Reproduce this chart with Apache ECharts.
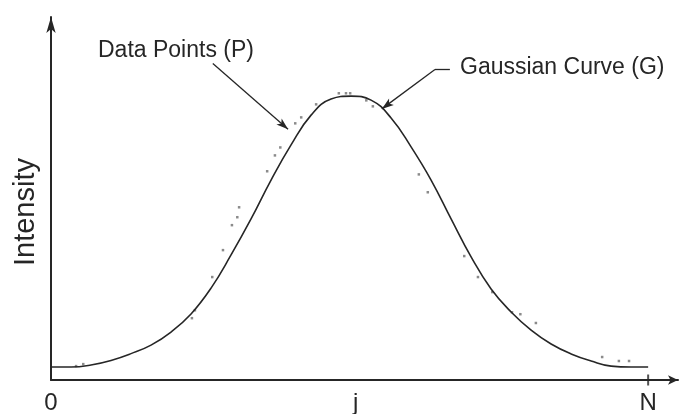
<!DOCTYPE html>
<html>
<head>
<meta charset="utf-8">
<script src="https://cdn.jsdelivr.net/npm/echarts@6/dist/echarts.min.js"></script>
<style>
  html, body { margin: 0; padding: 0; background: #fff; }
  #chart { width: 682px; height: 414px; }
</style>
</head>
<body>
<div id="chart"></div>
<script>
// Fitted Gaussian curve G, sampled along the pixel index axis (0 .. N = 100)
const curveX = [0, 3.35, 6.7, 10.05, 13.4, 16.75, 20.1, 23.45, 26.8, 30.15, 33.5, 36.85, 40.2, 43.55, 46.9, 50.25, 53.6, 56.95, 60.3, 63.65, 67.0, 70.35, 73.7, 77.05, 80.4, 83.75, 87.1, 90.45, 93.8, 97.15, 100];
const curveY = [4.6, 4.6, 5.3, 6.9, 9.3, 12.3, 16.9, 23.3, 32.4, 44.1, 56.8, 70.5, 82.9, 93.4, 99.1, 100.1, 98.7, 92.4, 82.2, 70.5, 56.8, 43.4, 32.1, 24.0, 17.6, 12.7, 9.2, 6.7, 4.9, 4.6, 4.6];

// Measured data points P
const pointX = [4.2, 5.4, 23.6, 24.1, 27.0, 28.8, 30.3, 31.2, 31.5, 36.2, 37.5, 38.4, 40.9, 41.9, 44.4, 48.2, 49.4, 50.1, 52.8, 53.9, 61.6, 63.1, 69.2, 71.5, 73.9, 77.2, 78.6, 81.2, 92.3, 95.1, 96.8];
const pointY = [4.9, 5.6, 21.8, 24.6, 36.3, 45.8, 54.6, 57.4, 60.9, 73.6, 79.2, 82.0, 90.5, 92.6, 97.2, 101.1, 101.1, 101.1, 98.6, 96.5, 72.5, 66.2, 43.7, 36.3, 31.0, 23.9, 23.2, 20.1, 8.1, 6.7, 6.7];

// Axis tick labels
const tickValues = [0, 51, 100];
const tickLabels = ['0', 'j', 'N'];
const endTick = [100, 0];

// Leader lines for the two callouts, in data coordinates
const pointsLeader = [[27.1, 111.6], [39.7, 88.4]];
const curveLeader = [[66.8, 109.5], [64.3, 109.5], [55.4, 95.6]];

const ink = '#262626';
const font = '"Liberation Sans", Arial, sans-serif';

const chart = echarts.init(document.getElementById('chart'), null, { renderer: 'canvas' });

const lineStyle = { color: ink, width: 1.3, type: 'solid' };
const leaderLines = [];
leaderLines.push([
  { coord: pointsLeader[0], symbol: 'none' },
  { coord: pointsLeader[1], symbol: 'arrow' }
]);
leaderLines.push([
  { coord: curveLeader[0], symbol: 'none' },
  { coord: curveLeader[1], symbol: 'none' }
]);
leaderLines.push([
  { coord: curveLeader[1], symbol: 'none' },
  { coord: curveLeader[2], symbol: 'arrow' }
]);

chart.setOption({
  animation: false,
  backgroundColor: '#fff',
  grid: { left: 51, right: 4, top: 17, bottom: 34, outerBoundsMode: 'none' },
  xAxis: {
    type: 'value',
    min: 0,
    max: 105,
    axisLine: {
      show: true,
      lineStyle: { color: ink, width: 2 },
      symbol: ['none', 'arrow'],
      symbolSize: [7, 10]
    },
    axisTick: { show: false },
    splitLine: { show: false },
    axisLabel: {
      customValues: tickValues,
      formatter: function (v) {
        const i = tickValues.indexOf(v);
        return i >= 0 ? tickLabels[i] : '';
      },
      color: ink,
      fontFamily: font,
      fontSize: 24,
      margin: 11
    }
  },
  yAxis: {
    type: 'value',
    min: 0,
    max: 128,
    axisLine: {
      show: true,
      lineStyle: { color: ink, width: 2 },
      symbol: ['none', 'arrow'],
      symbolSize: [7, 16]
    },
    axisTick: { show: false },
    splitLine: { show: false },
    axisLabel: { show: false }
  },
  series: [
    {
      name: 'Gaussian Curve (G)',
      type: 'line',
      data: curveX.map((x, i) => [x, curveY[i]]),
      smooth: 0.45,
      showSymbol: false,
      lineStyle: { color: ink, width: 1.6 },
      markLine: {
        silent: true,
        symbolSize: [6, 12],
        label: { show: false },
        lineStyle: lineStyle,
        emphasis: { disabled: true },
        data: leaderLines
      }
    },
    {
      name: 'Data Points (P)',
      type: 'scatter',
      data: pointX.map((x, i) => [x, pointY[i]]),
      symbol: 'rect',
      symbolSize: 2.5,
      itemStyle: { color: '#6e6e6e' },
      clip: false
    },
    {
      name: 'N tick',
      type: 'scatter',
      data: [endTick],
      symbol: 'rect',
      symbolSize: [2, 11],
      itemStyle: { color: ink },
      clip: false,
      silent: true
    }
  ],
  graphic: [
    {
      type: 'text',
      left: 98,
      top: 39,
      style: { text: 'Data Points (P)', fill: ink, font: '23px ' + font }
    },
    {
      type: 'text',
      left: 460,
      top: 56,
      style: { text: 'Gaussian Curve (G)', fill: ink, font: '23px ' + font }
    },
    {
      type: 'text',
      x: 26,
      y: 212,
      rotation: Math.PI / 2,
      style: {
        text: 'Intensity',
        fill: ink,
        font: '29px ' + font,
        align: 'center',
        verticalAlign: 'middle'
      }
    }
  ]
});
</script>
</body>
</html>
